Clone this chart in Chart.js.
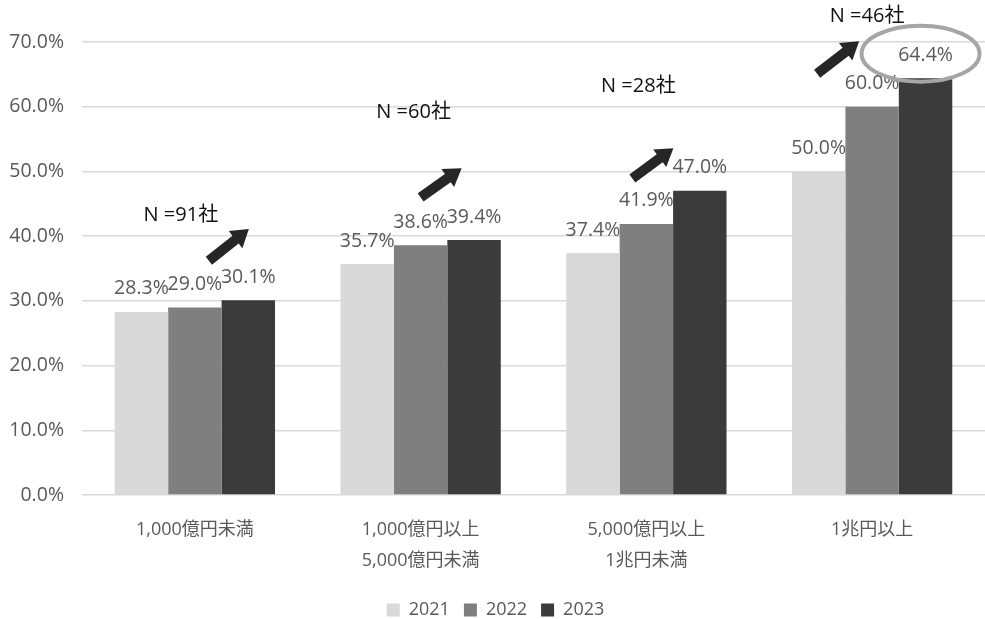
<!DOCTYPE html>
<html>
<head>
<meta charset="utf-8">
<script src="https://cdn.jsdelivr.net/npm/chart.js@4/dist/chart.umd.min.js"></script>
<style>
  body { margin: 0; background: #fff; }
  #wrap { width: 985px; height: 619px; }
</style>
</head>
<body>
<div id="wrap"><canvas id="myChart"></canvas></div>
<script>
const categories = [
    ['1,000億円未満'],
    ['1,000億円以上', '5,000億円未満'],
    ['5,000億円以上', '1兆円未満'],
    ['1兆円以上']
];
const years = ['2021', '2022', '2023'];
const values2021 = [28.3, 35.7, 37.4, 50.0];
const values2022 = [29.0, 38.6, 41.9, 60.0];
const values2023 = [30.1, 39.4, 47.0, 64.4];
const sampleSizes = ['N =91社', 'N =60社', 'N =28社', 'N =46社'];

const yTicks = [0, 10, 20, 30, 40, 50, 60, 70];

// where the N labels and arrows sit, in value units (y) and px offset from group centre (x)
const noteY = [43.2, 59.2, 63.2, 73.9];
const noteDx = [-14, -7, -8, -5];
const arrowFrom = [[14, 36.2], [0, 46.0], [-14, 48.9], [-55, 65.1]];
const arrowTo = [[54, 41.1], [41, 50.5], [27, 53.6], [-13, 70.1]];

const textColor = '#595959';
const fontFamily = '"Open Sans", "Noto Sans CJK JP", sans-serif';

function drawArrow(ctx, x1, y1, x2, y2) {
    const ang = Math.atan2(y2 - y1, x2 - x1);
    const len = Math.hypot(x2 - x1, y2 - y1);
    const shaft = 5, head = 11, headLen = 17;
    ctx.save();
    ctx.translate(x1, y1);
    ctx.rotate(ang);
    ctx.beginPath();
    ctx.moveTo(0, -shaft);
    ctx.lineTo(len - headLen, -shaft);
    ctx.lineTo(len - headLen, -head);
    ctx.lineTo(len, 0);
    ctx.lineTo(len - headLen, head);
    ctx.lineTo(len - headLen, shaft);
    ctx.lineTo(0, shaft);
    ctx.closePath();
    ctx.fillStyle = '#262626';
    ctx.fill();
    ctx.restore();
}

const notesPlugin = {
    id: 'notes',
    afterDatasetsDraw(chart) {
        const ctx = chart.ctx;
        const x = chart.scales.x, y = chart.scales.y;

        // value labels above bars
        ctx.save();
        ctx.font = '19.5px ' + fontFamily;
        ctx.fillStyle = textColor;
        ctx.textAlign = 'center';
        ctx.textBaseline = 'middle';
        chart.data.datasets.forEach((ds, di) => {
            chart.getDatasetMeta(di).data.forEach((bar, i) => {
                ctx.fillText(ds.data[i].toFixed(1) + '%', bar.x, bar.y - 23);
            });
        });

        // N labels and arrows
        ctx.font = '20px ' + fontFamily;
        ctx.fillStyle = '#111';
        sampleSizes.forEach((t, i) => {
            const cx = x.getPixelForValue(i);
            ctx.fillText(t, cx + noteDx[i], y.getPixelForValue(noteY[i]));
            drawArrow(ctx,
                cx + arrowFrom[i][0], y.getPixelForValue(arrowFrom[i][1]),
                cx + arrowTo[i][0], y.getPixelForValue(arrowTo[i][1]));
        });

        // highlight ring round the biggest value
        const last = chart.getDatasetMeta(2).data[3];
        ctx.beginPath();
        ctx.ellipse(last.x - 5, y.getPixelForValue(68.2), 59, 28, 0, 0, Math.PI * 2);
        ctx.strokeStyle = '#a6a6a6';
        ctx.lineWidth = 4;
        ctx.stroke();
        ctx.restore();
    }
};

const ctx = document.getElementById('myChart');

new Chart(ctx, {
    type: 'bar',
    data: {
        labels: categories,
        datasets: [
            { label: years[0], data: values2021, backgroundColor: '#d9d9d9' },
            { label: years[1], data: values2022, backgroundColor: '#7f7f7f' },
            { label: years[2], data: values2023, backgroundColor: '#3b3b3b' }
        ]
    },
    options: {
        responsive: true,
        maintainAspectRatio: false,
        animation: false,
        layout: { padding: { top: 42, right: 0, left: 6, bottom: -10 } },
        datasets: { bar: { barPercentage: 1.0, categoryPercentage: 0.71 } },
        plugins: {
            legend: {
                position: 'bottom',
                labels: {
                    boxWidth: 13,
                    boxHeight: 13,
                    color: textColor,
                    padding: 14,
                    font: { size: 18, family: fontFamily }
                }
            },
            tooltip: { enabled: false }
        },
        scales: {
            x: {
                grid: { display: false },
                border: { display: false },
                ticks: {
                    color: textColor,
                    padding: 11,
                    font: { size: 18, family: fontFamily, lineHeight: 1.72 }
                }
            },
            y: {
                min: 0,
                max: 70,
                afterBuildTicks(axis) {
                    axis.ticks = yTicks.map(v => ({ value: v }));
                },
                afterFit(axis) {
                    axis.width = 76;
                },
                grid: { color: '#d9d9d9', lineWidth: 1.5, drawTicks: false },
                border: { display: false },
                ticks: {
                    color: textColor,
                    padding: 18,
                    font: { size: 19.5, family: fontFamily },
                    callback: v => v.toFixed(1) + '%'
                }
            }
        }
    },
    plugins: [notesPlugin]
});
</script>
</body>
</html>
